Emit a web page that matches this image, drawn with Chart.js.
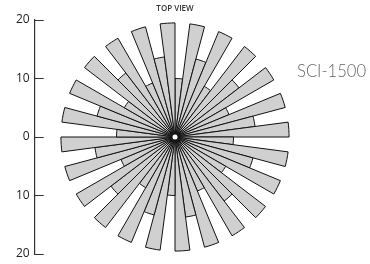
<!DOCTYPE html>
<html>
<head>
<meta charset="utf-8">
<style>
  html, body { margin: 0; padding: 0; background: #fff; overflow: hidden; }
  canvas { display: block; }
</style>
</head>
<body>
<canvas id="topView" width="370" height="264"></canvas>
<script src="https://cdn.jsdelivr.net/npm/chart.js@4/dist/chart.umd.min.js"></script>
<script>
// beam directions, degrees clockwise from top
const angles = [
    0, 7.5, 15, 22.5, 30, 37.5, 45, 52.5, 60, 67.5, 75, 82.5,
    90, 97.5, 105, 112.5, 120, 127.5, 135, 142.5, 150, 157.5, 165, 172.5,
    180, 187.5, 195, 202.5, 210, 217.5, 225, 232.5, 240, 247.5, 255, 262.5,
    270, 277.5, 285, 292.5, 300, 307.5, 315, 322.5, 330, 337.5, 345, 352.5
];

// beam reach
const reach = [
    10, 19.5, 13.8, 19.5, 10, 19.5, 13.8, 19.5, 10, 19.5, 13.8, 19.5,
    10, 19.5, 13.8, 19.5, 10, 19.5, 13.8, 19.5, 10, 19.5, 13.8, 19.5,
    10, 19.5, 13.8, 19.5, 10, 19.5, 13.8, 19.5, 10, 19.5, 13.8, 19.5,
    10, 19.5, 13.8, 19.5, 10, 19.5, 13.8, 19.5, 10, 19.5, 13.8, 19.5
];

const yTickValues = [-20, -10, 0, 10, 20];
const yTickLabels = ['20', '10', '0', '10', '20'];

const modelName = 'SCI-1500';
const viewTitle = 'TOP VIEW';

// Title, model label and white hub
const annotate = {
    id: 'annotate',
    afterDraw(chart) {
        const ctx = chart.ctx;
        const r = chart.scales.r;
        ctx.save();
        ctx.fillStyle = '#fff';
        ctx.beginPath();
        ctx.arc(r.xCenter, r.yCenter, 2.5, 0, Math.PI * 2);
        ctx.fill();

        ctx.fillStyle = '#333';
        ctx.font = '600 8px "Open Sans"';
        ctx.textAlign = 'center';
        ctx.fillText(viewTitle, r.xCenter, 11);

        // fit the model name to the space on the right
        ctx.font = '300 17px Lato';
        const size = Math.min(19, 17 * 69 / ctx.measureText(modelName).width);
        ctx.font = '300 ' + size.toFixed(1) + 'px Lato';
        ctx.fillStyle = '#666';
        ctx.textAlign = 'left';
        ctx.fillText(modelName, 297, 77);
        ctx.restore();
    }
};

new Chart(document.getElementById('topView'), {
    type: 'polarArea',
    data: {
        labels: angles.map(a => a + '°'),
        datasets: [{
            data: reach,
            backgroundColor: '#d0d0d0',
            borderColor: '#111',
            borderWidth: 1
        }]
    },
    plugins: [annotate],
    options: {
        responsive: false,
        animation: false,
        startAngle: -3.75,
        layout: { padding: { top: 20, bottom: 10, left: 2, right: 53 } },
        plugins: {
            legend: { display: false },
            tooltip: { enabled: false }
        },
        scales: {
            r: {
                min: 0,
                max: 20,
                grid: { display: false },
                angleLines: { display: false },
                pointLabels: { display: false },
                ticks: { display: false }
            },
            y: {
                type: 'linear',
                position: 'left',
                min: -20,
                max: 20,
                afterBuildTicks: scale => {
                    scale.ticks = yTickValues.map(v => ({ value: v }));
                },
                // keep the label padding from shrinking the plot height
                afterFit: scale => {
                    scale.paddingTop = 0;
                    scale.paddingBottom = 0;
                },
                grid: {
                    drawOnChartArea: false,
                    drawTicks: true,
                    tickLength: -9,
                    color: '#333',
                    lineWidth: 1
                },
                border: { display: true, color: '#333', width: 1.2 },
                ticks: {
                    padding: 14,
                    color: '#222',
                    font: { family: '"Open Sans"', size: 12 },
                    callback: (v, i) => yTickLabels[i]
                }
            }
        }
    }
});
</script>
</body>
</html>
